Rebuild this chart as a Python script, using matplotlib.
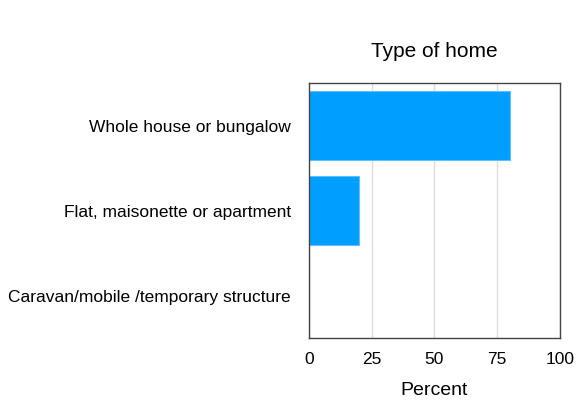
import matplotlib.pyplot as plt

plt.rcParams['font.family'] = ['Liberation Sans', 'DejaVu Sans']

categories = ['Whole house or bungalow', 'Flat, maisonette or apartment',
              'Caravan/mobile /temporary structure']
percent = [80, 20, 0]
ticks = [0, 25, 50, 75, 100]

fig = plt.figure(figsize=(5.81, 4.05), dpi=100)
ax = fig.add_axes([308.7 / 581, 1 - 338.3 / 405, 251.3 / 581, 255 / 405])

ax.barh(range(len(categories)), percent, height=0.81, color='#009FFF',
        edgecolor='#5CC0FF', linewidth=0.8, zorder=2)

ax.set_xlim(0, 100)
ax.set_ylim(2.5, -0.5)
ax.set_xticks(ticks)
ax.set_xticklabels([str(t) for t in ticks], fontsize=12.5)
ax.set_yticks(range(len(categories)))
ax.set_yticklabels(categories, fontsize=12.5)
ax.tick_params(length=0, pad=13)
ax.tick_params(axis='x', pad=10)
ax.grid(axis='x', color='#DDDDDD', linewidth=1, zorder=0)
for s in ax.spines.values():
    s.set_color('#444444')
    s.set_linewidth(1)

ax.set_title('Type of home', fontsize=15, pad=19)
ax.set_xlabel('Percent', fontsize=14, labelpad=11)

plt.savefig('out.png')
